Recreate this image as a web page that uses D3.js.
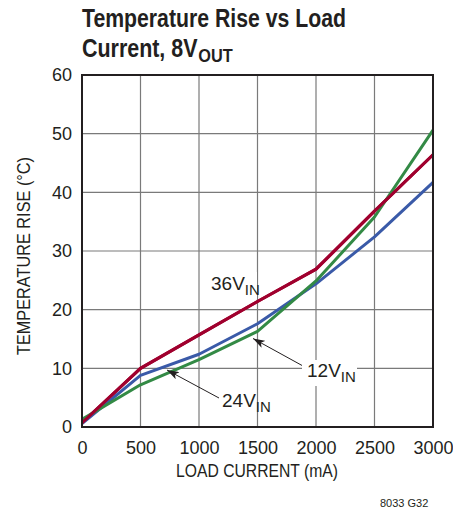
<!DOCTYPE html>
<html><head><meta charset="utf-8">
<script src="https://cdn.jsdelivr.net/npm/d3@7"></script>
<style>
body{margin:0;background:#fff;}
svg{display:block;}
text{font-family:"Liberation Sans Narrow","Arial Narrow","Liberation Sans",sans-serif;fill:#231f20;}
</style></head>
<body>
<svg id="c" width="453" height="510"></svg>
<script>
const current = [0, 500, 1000, 1500, 2000, 2500, 3000];
const rise36 = [0.7, 10, 15.7, 21.4, 26.9, 36.8, 46.4];
const rise24 = [0.6, 8.8, 12.4, 17.6, 24.4, 32.4, 41.7];
const rise12 = [1.3, 7.2, 11.5, 16.3, 24.9, 35.8, 50.6];
const xTicks = [0, 500, 1000, 1500, 2000, 2500, 3000];
const yTicks = [0, 10, 20, 30, 40, 50, 60];
const seriesNames = ["36V", "24V", "12V"];
const seriesColors = ["#a0002e", "#3a5aa8", "#338a45"];

const svg = d3.select("#c");
const L = 82, R = 433, T = 75, B = 427;
const x = d3.scaleLinear().domain([0, 3000]).range([L, R]);
const y = d3.scaleLinear().domain([0, 60]).range([B, T]);

function fitText(sel, w){ sel.attr("textLength", w).attr("lengthAdjust","spacingAndGlyphs"); }
function squeeze(sel, tx, ty, w){
  const nat = sel.node().getComputedTextLength();
  sel.attr("transform", `translate(${tx},${ty}) scale(${w/nat},1)`);
}
// title
const t1 = svg.append("text").attr("font-size", 25).attr("font-weight","bold").text("Temperature Rise vs Load");
squeeze(t1, 82, 27, 264);
const t2 = svg.append("text").attr("font-size", 25).attr("font-weight","bold");
t2.append("tspan").text("Current, 8V");
t2.append("tspan").attr("font-size", 19).attr("dy", 5).attr("dx", 1).text("OUT");
squeeze(t2, 82, 57, 150);

// grid
const g = svg.append("g");
g.selectAll(".gx").data(xTicks.slice(1,-1)).join("line")
  .attr("x1", d => x(d)).attr("x2", d => x(d)).attr("y1", T).attr("y2", B)
  .attr("stroke", "#7a7a7a").attr("stroke-width", 1.2);
g.selectAll(".gy").data(yTicks.slice(1,-1)).join("line")
  .attr("y1", d => y(d)).attr("y2", d => y(d)).attr("x1", L).attr("x2", R)
  .attr("stroke", "#7a7a7a").attr("stroke-width", 1.2);

// axes tick labels
const xAxis = d3.axisBottom(x).tickValues(xTicks).tickSize(0).tickPadding(10).tickFormat(d3.format("d"));
const ax = svg.append("g").attr("transform", `translate(0,${B})`).call(xAxis);
ax.select(".domain").remove();
ax.selectAll("text").attr("font-size", 18).attr("font-family", null).attr("fill","#231f20").attr("dy", "0.95em");
const yAxis = d3.axisLeft(y).tickValues(yTicks).tickSize(0).tickPadding(10).tickFormat(d3.format("d"));
const ay = svg.append("g").attr("transform", `translate(${L},0)`).call(yAxis);
ay.select(".domain").remove();
ay.selectAll("text").attr("font-size", 18).attr("font-family", null).attr("fill","#231f20");

// axis titles
const xt = svg.append("text").attr("x", 257).attr("y", 477).attr("text-anchor","middle").attr("font-size", 18).text("LOAD CURRENT (mA)");
fitText(xt, 162);
const yt = svg.append("text").attr("transform", "translate(30,256) rotate(-90)").attr("text-anchor","middle").attr("font-size", 18).text("TEMPERATURE RISE (°C)");
fitText(yt, 198);

// lines
const line = d3.line().x((d,i) => x(current[i])).y(d => y(d));
[rise36, rise24, rise12].forEach((s, k) => {
  svg.append("path").datum(s).attr("d", line).attr("fill","none")
    .attr("stroke", seriesColors[k]).attr("stroke-width", 3).attr("stroke-linejoin","round");
});
svg.append("path").datum(rise36).attr("d", line).attr("fill","none")
  .attr("stroke", seriesColors[0]).attr("stroke-width", 3);

// frame
svg.append("rect").attr("x", L).attr("y", T).attr("width", R-L).attr("height", B-T)
  .attr("fill","none").attr("stroke","#231f20").attr("stroke-width", 2);

// arrow marker
svg.append("defs").append("marker").attr("id","ah").attr("viewBox","0 0 12 8")
  .attr("refX", 12).attr("refY", 4).attr("markerWidth", 12).attr("markerHeight", 8)
  .attr("markerUnits","userSpaceOnUse").attr("orient","auto")
  .append("path").attr("d","M0,0 L12,4 L0,8 L3,4 Z").attr("fill","#231f20");

function label(txt, lx, ly, bg){
  if(bg){
    svg.append("rect").attr("x", bg[0]).attr("y", bg[1]).attr("width", bg[2]).attr("height", bg[3]).attr("fill","#fff");
  }
  const t = svg.append("text").attr("x", lx).attr("y", ly).attr("font-size", 19);
  t.append("tspan").text(txt);
  t.append("tspan").attr("font-size", 15).attr("dy", 5).text("IN");
}
svg.append("line").attr("x1", 303).attr("y1", 366).attr("x2", 253).attr("y2", 338.5)
  .attr("stroke","#231f20").attr("stroke-width",1).attr("marker-end","url(#ah)");
svg.append("line").attr("x1", 219).attr("y1", 398).attr("x2", 167).attr("y2", 370)
  .attr("stroke","#231f20").attr("stroke-width",1).attr("marker-end","url(#ah)");

label(seriesNames[0], 211, 290, [207, 272, 50, 27]);
label(seriesNames[2], 307, 377, [302, 360, 55, 26]);
label(seriesNames[1], 222, 407, null);

svg.append("text").attr("x", 380).attr("y", 507).attr("font-size", 11).text("8033 G32");
</script>
</body></html>
